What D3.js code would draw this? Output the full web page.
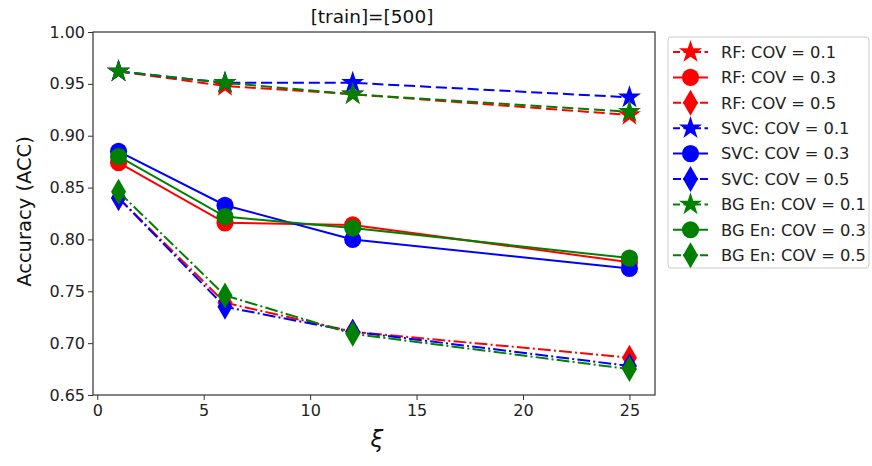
<!DOCTYPE html>
<html><head><meta charset="utf-8">
<script src="https://d3js.org/d3.v7.min.js"></script>
<style>body{margin:0;background:#fff;} text{font-family:"DejaVu Sans",sans-serif;}</style>
</head><body><svg id="c" width="872" height="466"></svg>
<script>
const xs = [1, 6, 12, 25];
const rf01 = [0.962, 0.948, 0.940, 0.920];
const rf03 = [0.874, 0.816, 0.814, 0.778];
const rf05 = [0.840, 0.739, 0.711, 0.686];
const svc01 = [0.962, 0.951, 0.951, 0.937];
const svc03 = [0.885, 0.833, 0.800, 0.772];
const svc05 = [0.840, 0.735, 0.711, 0.678];
const bg01 = [0.962, 0.951, 0.940, 0.923];
const bg03 = [0.880, 0.822, 0.811, 0.782];
const bg05 = [0.846, 0.746, 0.709, 0.675];
const xTicks = [0, 5, 10, 15, 20, 25];
const yTicks = [0.65, 0.70, 0.75, 0.80, 0.85, 0.90, 0.95, 1.00];
const seriesNames = ["RF: COV = 0.1","RF: COV = 0.3","RF: COV = 0.5","SVC: COV = 0.1","SVC: COV = 0.3","SVC: COV = 0.5","BG En: COV = 0.1","BG En: COV = 0.3","BG En: COV = 0.5"];
const seriesValues = [rf01, rf03, rf05, svc01, svc03, svc05, bg01, bg03, bg05];
const colors = ["red","red","red","blue","blue","blue","green","green","green"];
const styles = ["dashed","solid","dashdot","dashed","solid","dashdot","dashed","solid","dashdot"];
const markers = ["star","circle","diamond","star","circle","diamond","star","circle","diamond"];

const svg = d3.select("#c");
const L = 93, R = 655, T = 32, B = 395;
const x = d3.scaleLinear().domain([-0.2, 26.2]).range([L, R]);
const y = d3.scaleLinear().domain([0.65, 1.00]).range([B, T]);
const lw = 2;
const dashes = {dashed: [5.55*lw, 2.4*lw].join(","), solid: null, dashdot: [6.4*lw, 1.6*lw, 1*lw, 1.6*lw].join(",")};

function markerPath(type){
  if(type==="star") return d3.symbol().type(d3.symbolStar).size(165)();
  if(type==="circle") return d3.symbol().type(d3.symbolCircle).size(230)();
  return "M0,-13L7.5,0L0,13L-7.5,0Z";
}

const gx = svg.append("g").attr("transform", `translate(0,${B})`)
  .call(d3.axisBottom(x).tickValues(xTicks).tickFormat(d3.format("d")).tickSize(5).tickSizeOuter(0));
const gy = svg.append("g").attr("transform", `translate(${L},0)`)
  .call(d3.axisLeft(y).tickValues(yTicks).tickFormat(d3.format(".2f")).tickSize(5).tickSizeOuter(0));
[gx, gy].forEach(g => {
  g.select(".domain").remove();
  g.selectAll(".tick line").attr("stroke", "#333").attr("stroke-width", 1);
  g.selectAll(".tick text").attr("fill", "#222").style("font-size", "16px");
});
gx.selectAll(".tick text").attr("dy", "0.8em");

const plot = svg.append("g");
const lineGen = d3.line().x((d,i) => x(xs[i])).y(d => y(d));
seriesValues.forEach((vals, k) => {
  const p = plot.append("path").datum(vals).attr("d", lineGen)
    .attr("fill", "none").attr("stroke", colors[k]).attr("stroke-width", lw);
  if (dashes[styles[k]]) p.attr("stroke-dasharray", dashes[styles[k]]);
  plot.selectAll(null).data(vals).enter().append("path")
    .attr("d", markerPath(markers[k]))
    .attr("transform", (d,i) => `translate(${x(xs[i])},${y(d)})`)
    .attr("fill", colors[k]);
});

svg.append("rect").attr("x", L).attr("y", T).attr("width", R-L).attr("height", B-T)
  .attr("fill", "none").attr("stroke", "#333").attr("stroke-width", 1.2);

svg.append("text").attr("x", (L+R)/2 - 2).attr("y", 23).attr("text-anchor", "middle")
  .style("font-size", "18.5px").attr("fill", "#111").text("[train]=[500]");
svg.append("text").attr("transform", `translate(31,${(T+B)/2 - 2}) rotate(-90)`).attr("text-anchor", "middle")
  .style("font-size", "19.5px").attr("fill", "#111").text("Accuracy (ACC)");
svg.append("text").attr("x", (L+R)/2 + 3).attr("y", 447).attr("text-anchor", "middle")
  .style("font-size", "23px").style("font-style", "italic").attr("fill", "#111").text("ξ");

const lg = svg.append("g");
lg.append("rect").attr("x", 668).attr("y", 37).attr("width", 201).attr("height", 231)
  .attr("rx", 3).attr("fill", "#fff").attr("stroke", "#ccc").attr("stroke-width", 1);
seriesNames.forEach((name, k) => {
  const yy = 52 + k * 25.4;
  const ln = lg.append("line").attr("x1", 673).attr("x2", 708).attr("y1", yy).attr("y2", yy)
    .attr("stroke", colors[k]).attr("stroke-width", lw);
  if (dashes[styles[k]]) ln.attr("stroke-dasharray", styles[k]==="dashed" ? "7,3.5" : "8,2,1.5,2");
  lg.append("path").attr("d", markerPath(markers[k])).attr("transform", `translate(690.5,${yy})`).attr("fill", colors[k]);
  lg.append("text").attr("x", 721).attr("y", yy).attr("dy", "0.35em")
    .style("font-size", "16.3px").attr("fill", "#222").text(name);
});
</script></body></html>
